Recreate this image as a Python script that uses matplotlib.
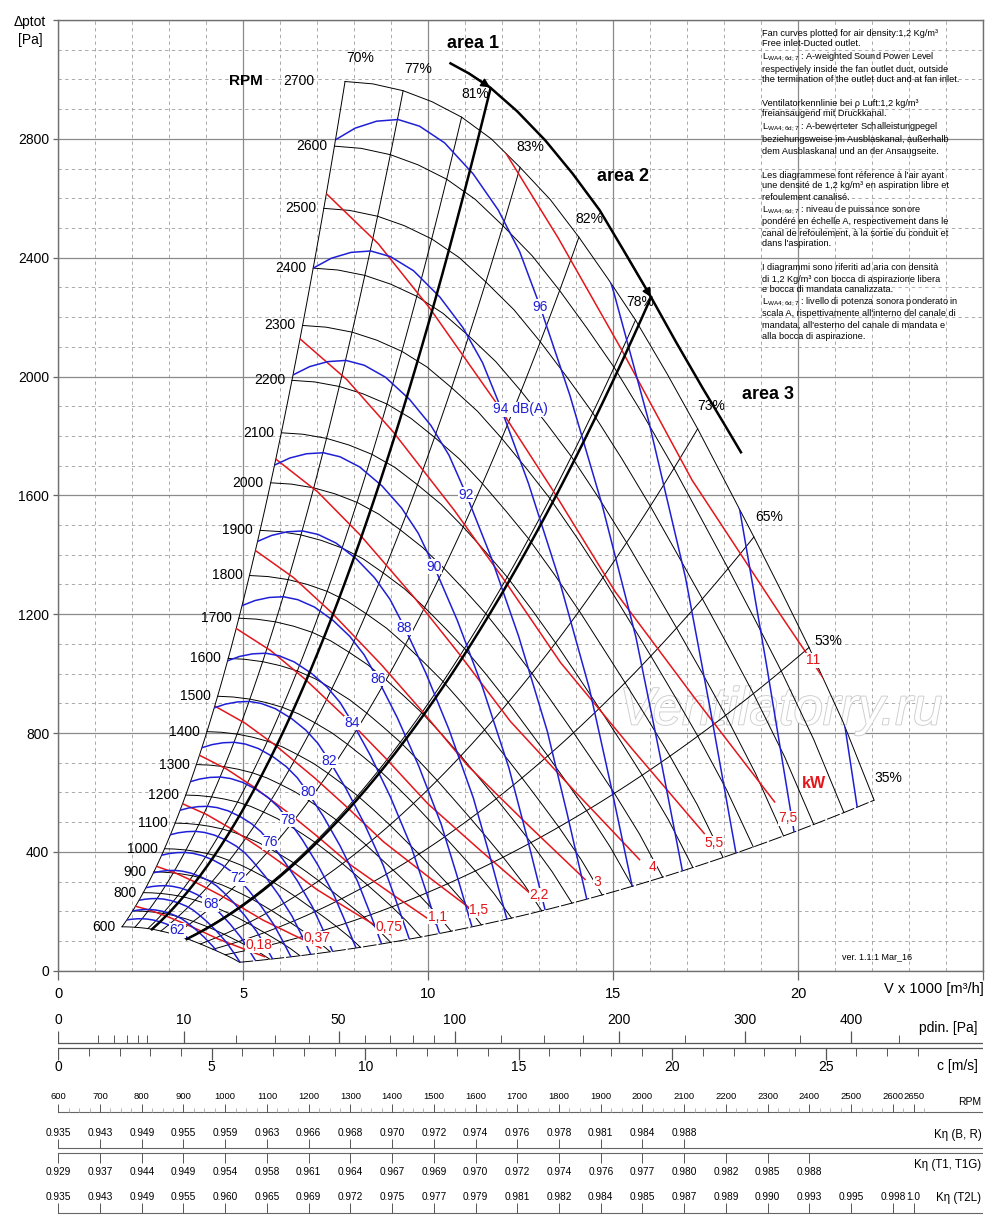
import numpy as np
import matplotlib.pyplot as plt
from matplotlib.patches import Polygon
import matplotlib.patheffects as pe

plt.rcParams['font.family'] = ['Liberation Sans', 'DejaVu Sans']
plt.rcParams['mathtext.fontset'] = 'custom'
plt.rcParams['mathtext.rm'] = 'Liberation Sans'

BLUE = '#1f1fd6'
RED = '#e3161b'

# ---------------- data ----------------
# fan curve at 2700 rpm (V x 1000 m3/h, dp Pa); other speeds follow the fan laws
base_v = [7.75, 8.5, 9.32, 10.1, 10.9, 11.7, 12.48, 13.3, 14.07, 14.85, 15.6,
          16.45, 17.28, 18.05, 18.8, 19.55, 20.29, 21.2, 22.05]
base_p = [2993, 2985, 2962, 2925, 2873, 2800, 2704, 2595, 2469, 2330, 2190,
          2010, 1824, 1640, 1460, 1275, 1088, 840, 574]
rpm = [600, 700, 800, 900, 1000, 1100, 1200, 1300, 1400, 1500, 1600, 1700,
       1800, 1900, 2000, 2100, 2200, 2300, 2400, 2500, 2600, 2700]
rpm_no_label = [700]

# efficiency lines: value and where they meet the 2700 rpm curve
eff_pct = [70, 77, 81, 83, 82, 78, 73, 65, 53, 35]
eff_v = [7.75, 9.32, 10.9, 12.48, 14.07, 15.6, 17.28, 18.8, 20.29, 22.05]
eff_off = [(10.8, 16.6), (10.8, 15.8), (10, 16.6), (7.2, 14.4), (7.2, 13),
           (3.6, 13), (9.4, 16.6), (10.8, 14.4), (13.7, 5), (10, 15.8)]

# sound power line shape (at 2700 rpm reference) and start speed of each line
snd_v = [7.75, 8.3, 8.9, 9.5, 10.1, 10.8, 11.6, 12.3, 12.9, 13.45, 14.3, 15.2,
         16.15, 16.8, 17.45]
snd_p = [2993, 3035, 3060, 3066, 3042, 2982, 2870, 2740, 2590, 2400, 2074,
         1680, 1201, 790, 359]
snd_db = [62, 64, 66, 68, 70, 72, 74, 76, 78, 80, 82, 84, 86, 88, 90, 92, 94,
          96, 98, 100, 102]
snd_rpm = [645, 700, 760, 825, 896, 973, 1056, 1147, 1245, 1352, 1468, 1594,
           1730, 1876, 2036, 2210, 2400, 2610, 2834, 3077, 3341]
snd_labelled = [62, 68, 72, 76, 78, 80, 82, 84, 86, 88, 90, 92, 94, 96]

# absorbed power line shape (at 2700 rpm reference) and start speed of each line
pwr_v = [7.75, 9.25, 10.75, 12.7, 14.3, 16.1, 18.4, 20.71]
pwr_p = [2993, 2800, 2550, 2180, 1850, 1460, 1050, 650]
pwr_kw = ['0,18', '0,37', '0,75', '1,1', '1,5', '2,2', '3', '4', '5,5', '7,5', '11']
pwr_rpm = [727, 925, 1170, 1329, 1473, 1675, 1856, 2048, 2276, 2524, 2872]
pwr_lab_v = [5.41, 6.99, 8.93, 10.24, 11.37, 12.99, 14.57, 16.06, 17.73, 19.71, 20.39]
pwr_lab_p = [86, 109, 148, 182, 204, 255, 299, 350, 429, 513, 1045]

# area limits (thick lines) and the arc
area_start_v = [2.53, 3.47]
area_top_v = [11.68, 16.02]
area_top_p = [2969, 2267]
arc_v = [10.6, 11.1, 11.67, 12.4, 13.16, 13.9, 14.63, 15.3, 16.02, 16.7,
         17.42, 17.95, 18.45]
arc_p = [3054, 3020, 2973, 2893, 2795, 2683, 2560, 2420, 2267, 2115,
         1960, 1850, 1745]
arc_arrows = [2, 8]

# lower scales
c_per_v = 1.2054          # m/s per 1000 m3/h
rho = 1.2
pdin_major = [0, 10, 50, 100, 200, 300, 400]
pdin_minor = [1, 2, 3, 4, 5, 20, 30, 40, 60, 70, 80, 90, 125, 150, 175, 250, 350, 450]
c_major = [0, 5, 10, 15, 20, 25]
rpm_per_v = 88.67          # rpm scale: 600 rpm at V=0
rpm_scale = list(range(600, 2601, 100)) + [2650]
k_br = [0.935, 0.943, 0.949, 0.955, 0.959, 0.963, 0.966, 0.968, 0.970, 0.972,
        0.974, 0.976, 0.978, 0.981, 0.984, 0.988]
k_t1 = [0.929, 0.937, 0.944, 0.949, 0.954, 0.958, 0.961, 0.964, 0.967, 0.969,
        0.970, 0.972, 0.974, 0.976, 0.977, 0.980, 0.982, 0.985, 0.988]
k_t2l = [0.935, 0.943, 0.949, 0.955, 0.960, 0.965, 0.969, 0.972, 0.975, 0.977,
         0.979, 0.981, 0.982, 0.984, 0.985, 0.987, 0.989, 0.990, 0.993, 0.995,
         0.998, 1.0]
k_t2l_txt = ['%.3f' % k for k in k_t2l[:-1]] + ['1.0']

notes = [
    (33, "Fan curves plotted for air density:1,2 Kg/m³"),
    (43, "Free inlet-Ducted outlet."),
    (57, r"L$_\mathregular{WA4;6d;7}$ : A-weighted Sound Power Level"),
    (69, "respectively inside the fan outlet duct, outside"),
    (80, "the termination of the outlet duct and at fan inlet."),
    (103, "Ventilatorkennlinie bei ρ Luft:1,2 kg/m³"),
    (114, "freiansaugend mit Druckkanal."),
    (127, r"L$_\mathregular{WA4;6d;7}$ : A-bewerteter Schalleistungpegel"),
    (139, "beziehungsweise im Ausblaskanal, außerhalb"),
    (151, "dem Ausblaskanal und an der Ansaugseite."),
    (175, "Les diagrammese font réference à l'air ayant"),
    (186, "une densité de 1,2 kg/m³ en aspiration libre et"),
    (198, "refoulement canalisé."),
    (210, r"L$_\mathregular{WA4;6d ;7}$ : niveau de puissance sonore"),
    (222, "pondéré en échelle A, respectivement dans le"),
    (233, "canal de refoulement, à la sortie du conduit et"),
    (244, "dans l'aspiration."),
    (268, "I diagrammi sono riferiti ad aria con densità"),
    (279, "di 1,2 Kg/m³ con bocca di aspirazione libera"),
    (290, "e bocca di mandata canalizzata."),
    (302, r"L$_\mathregular{WA4;6d;7}$ : livello di potenza sonora ponderato in"),
    (314, "scala A, rispettivamente all'interno del canale di"),
    (325, "mandata, all'esterno del canale di mandata e"),
    (337, "alla bocca di aspirazione."),
]

# ---------------- figure ----------------
W, H = 1000, 1219
fig = plt.figure(figsize=(W / 100, H / 100), dpi=100)
ax = fig.add_axes([58.3 / W, 1 - 970.7 / H, 925 / W, 950.7 / H])
ax.set_xlim(0, 25)
ax.set_ylim(0, 3200)
ax.set_axisbelow(True)

ax.set_xticks(range(0, 26, 5))
ax.set_xticklabels(['0', '5', '10', '15', '20', ''])
ax.set_xticks(range(0, 26), minor=True)
ax.set_yticks(range(0, 3201, 400))
ax.set_yticklabels([str(v) for v in range(0, 3200, 400)] + [''])
ax.set_yticks(range(0, 3201, 100), minor=True)
ax.tick_params(axis='x', which='major', length=6.5, width=0.9, color='#666',
               labelsize=10.5, pad=5)
ax.tick_params(axis='y', which='major', length=3.6, width=0.9, color='#666',
               labelsize=10, pad=3)
ax.tick_params(which='minor', length=0)
ax.grid(which='minor', color='#9c9c9c', lw=0.6, ls=(0, (4, 4)))
ax.grid(which='major', color='#8a8a8a', lw=0.9, ls='-')
for sp in ax.spines.values():
    sp.set_color('#707070')
    sp.set_linewidth(1.0)

bv = np.array(base_v)
bp = np.array(base_p)
s0 = rpm[0] / 2700
s_all = np.linspace(s0, 1, 60)

# fan region used to clip sound and power lines
left = np.column_stack([bv[0] * s_all, bp[0] * s_all ** 2])
top = np.column_stack([bv, bp])
right = np.column_stack([bv[-1] * s_all[::-1], bp[-1] * s_all[::-1] ** 2])
bottom = np.column_stack([bv[::-1] * s0, bp[::-1] * s0 ** 2])
region = Polygon(np.vstack([left, top, right, bottom]), closed=True,
                 transform=ax.transData, fc='none', ec='none')
ax.add_patch(region)

# rpm curves
for n in rpm:
    s = n / 2700
    ax.plot(bv * s, bp * s * s, color='k', lw=0.7, zorder=2)
    if n not in rpm_no_label:
        off = -22 if n == 2700 else -5
        ax.annotate(str(n), (bv[0] * s, bp[0] * s * s), xytext=(off, 0),
                    textcoords='offset points', ha='right', va='center',
                    fontsize=10, zorder=6)

# efficiency lines
for pct, v, off in zip(eff_pct, eff_v, eff_off):
    p = np.interp(v, bv, bp)
    ls = (0, (14, 2)) if pct == 35 else '-'
    ax.plot(v * s_all, p * s_all ** 2, color='k', lw=0.7, ls=ls, zorder=2)
    ax.annotate('%d%%' % pct, (v, p), xytext=off, textcoords='offset points',
                ha='center', va='center', fontsize=10, zorder=6)

# area lines and arc
for sv, tv_, tp_ in zip(area_start_v, area_top_v, area_top_p):
    ss = np.linspace(sv / tv_, 1, 50)
    ax.plot(tv_ * ss, tp_ * ss ** 2, color='k', lw=1.8, zorder=4)
ax.plot(arc_v, arc_p, color='k', lw=1.8, zorder=4, solid_joinstyle='round')
for i in arc_arrows:
    ax.annotate('', xy=(arc_v[i], arc_p[i]), xytext=(arc_v[i - 1], arc_p[i - 1]),
                arrowprops=dict(arrowstyle='-|>', color='k', lw=1.2,
                                mutation_scale=13, shrinkA=0, shrinkB=0),
                zorder=5)
ax.text(11.22, 3120, 'area 1', fontsize=13, fontweight='bold', ha='center', va='center')
ax.text(15.26, 2673, 'area 2', fontsize=13, fontweight='bold', ha='center', va='center')
ax.text(19.18, 1939, 'area 3', fontsize=13, fontweight='bold', ha='center', va='center')
ax.text(5.08, 2996, 'RPM', fontsize=11, fontweight='bold', ha='center', va='center')

# power lines
pv, pp = np.array(pwr_v), np.array(pwr_p)
for kw, n, lv, lp in zip(pwr_kw, pwr_rpm, pwr_lab_v, pwr_lab_p):
    s = n / 2700
    ln, = ax.plot(pv * s, pp * s * s, color=RED, lw=1.1, zorder=3)
    ln.set_clip_path(region)
    ax.text(lv, lp, kw, color=RED, fontsize=10, ha='center', va='center', zorder=6,
            bbox=dict(fc='white', ec='none', pad=0.3))
ax.text(20.43, 630, 'kW', color=RED, fontsize=11.5, fontweight='bold',
        ha='center', va='center', zorder=6)

# sound power lines
tv, tp = np.array(snd_v), np.array(snd_p)
lab_x = 13.47
lab_y = np.interp(lab_x, tv, tp)
for db, n in zip(snd_db, snd_rpm):
    s = n / 2700
    ln, = ax.plot(tv * s, tp * s * s, color=BLUE, lw=1.1, zorder=3)
    ln.set_clip_path(region)
    if db in snd_labelled:
        if db == 94:
            ax.annotate('94 dB(A)', (lab_x * s, lab_y * s * s), xytext=(-6, 0),
                        textcoords='offset points', ha='left', va='center',
                        color=BLUE, fontsize=10, zorder=6,
                        bbox=dict(fc='white', ec='none', pad=0.3))
        else:
            ax.text(lab_x * s, lab_y * s * s, str(db), color=BLUE, fontsize=10,
                    ha='center', va='center', zorder=6,
                    bbox=dict(fc='white', ec='none', pad=0.3))

# watermark and version
ax.text(19.53, 876, 'Ventilatorry.ru', fontsize=38, style='italic', color='white',
        ha='center', va='center', zorder=1.5,
        path_effects=[pe.withStroke(linewidth=1.3, foreground='#cdcdcd')])
ax.text(22.13, 46, 'ver. 1.1.1 Mar_16', fontsize=6.5, ha='center', va='center')

fig.text(30 / W, 1 - 22 / H, 'Δptot', fontsize=10, ha='center', va='center')
fig.text(30 / W, 1 - 40 / H, '[Pa]', fontsize=10, ha='center', va='center')
ax.text(25, -60, 'V x 1000 [m³/h]', fontsize=10.5, ha='right', va='center')

for y, txt in notes:
    fig.text(762 / W, 1 - y / H, txt, fontsize=6.6, ha='left', va='center')

# ---------------- lower scales ----------------
sc = fig.add_axes([58.3 / W, 0, 925 / W, (H - 975) / H])
sc.set_xlim(0, 25)
sc.set_ylim(H, 975)
sc.axis('off')
LC = '#555555'


def pdin_v(p):
    return np.sqrt(np.array(p, float) / (rho / 2)) / c_per_v


def rpm_v(n):
    return (np.array(n, float) - 600) / rpm_per_v


# dynamic pressure
sc.plot([0, 25], [1042.7, 1042.7], color=LC, lw=0.9)
sc.vlines(pdin_v(pdin_major), 1031, 1042.7, color=LC, lw=0.9)
sc.vlines(pdin_v(pdin_minor), 1035, 1042.7, color=LC, lw=0.7)
for p, v in zip(pdin_major, pdin_v(pdin_major)):
    sc.text(v, 1020, str(p), fontsize=10, ha='center', va='center')
sc.text(24.85, 1028, 'pdin. [Pa]', fontsize=10, ha='right', va='center')

# velocity
sc.plot([0, 25], [1048.3, 1048.3], color=LC, lw=0.9)
c_minor = [c for c in range(0, 29) if c % 5]
sc.vlines(np.array(c_major) / c_per_v, 1048.3, 1060, color=LC, lw=0.9)
sc.vlines(np.array(c_minor) / c_per_v, 1048.3, 1056, color=LC, lw=0.7)
for c in c_major:
    sc.text(c / c_per_v, 1067, str(c), fontsize=10, ha='center', va='center')
sc.text(24.85, 1066, 'c [m/s]', fontsize=10, ha='right', va='center')

# rpm scale
sc.plot([0, 25], [1112.3, 1112.3], color='#666', lw=0.8)
sc.vlines(rpm_v(rpm_scale), 1104, 1112.3, color='#555', lw=0.7)
rpm_minor = [n for n in range(625, 2700, 25) if n % 100 and n != 2650]
sc.vlines(rpm_v(rpm_minor), 1108, 1112.3, color='#aaa', lw=0.6)
for n, v in zip(rpm_scale, rpm_v(rpm_scale)):
    sc.text(v, 1097, str(n), fontsize=6.8, ha='center', va='center')
sc.text(24.95, 1102, 'RPM', fontsize=7.5, ha='right', va='center')

# efficiency correction factors
rv = rpm_v(rpm_scale)
sc.plot([0, 25], [1148.3, 1148.3], color='#666', lw=0.8)
sc.vlines(rv[:len(k_br)], 1139, 1148.3, color='#555', lw=0.7)
for k, v in zip(k_br, rv):
    sc.text(v, 1133, '%.3f' % k, fontsize=7.3, ha='center', va='center')
sc.text(24.95, 1135, 'Kη (B, R)', fontsize=8.3, ha='right', va='center')

sc.plot([0, 25], [1153.3, 1153.3], color='#666', lw=0.8)
sc.vlines(rv[:len(k_t1)], 1153.3, 1163, color='#555', lw=0.7)
for k, v in zip(k_t1, rv):
    sc.text(v, 1171.7, '%.3f' % k, fontsize=7.3, ha='center', va='center')
sc.text(24.95, 1165, 'Kη (T1, T1G)', fontsize=8.3, ha='right', va='center')

sc.plot([0, 25], [1213.3, 1213.3], color='#666', lw=0.8)
sc.vlines(rv[:len(k_t2l)], 1203, 1213.3, color='#555', lw=0.7)
for t, v in zip(k_t2l_txt, rv):
    sc.text(v, 1196.7, t, fontsize=7.3, ha='center', va='center')
sc.text(24.95, 1198, 'Kη (T2L)', fontsize=8.3, ha='right', va='center')

fig.savefig('out.png', dpi=100)
